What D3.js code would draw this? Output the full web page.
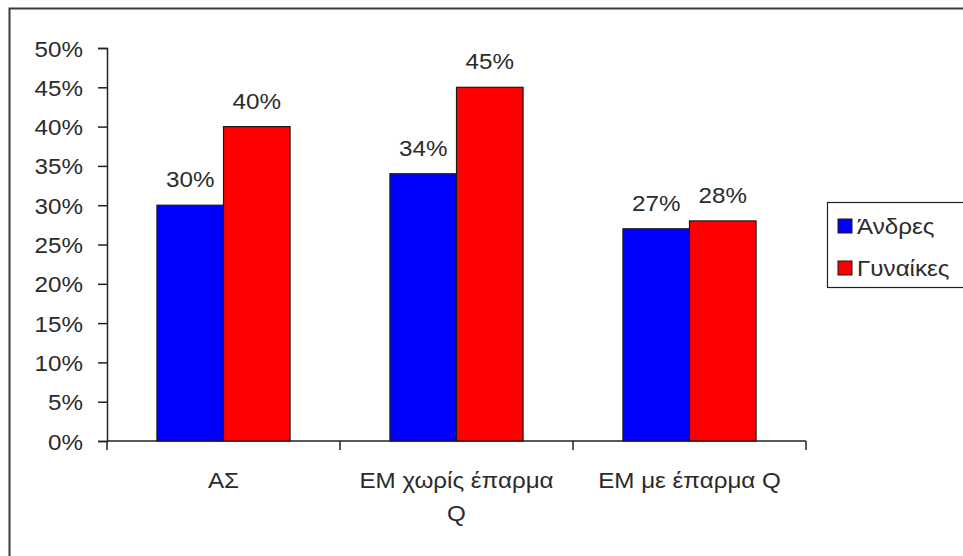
<!DOCTYPE html>
<html>
<head>
<meta charset="utf-8">
<script src="https://cdn.jsdelivr.net/npm/d3@7"></script>
<style>
  html, body { margin: 0; padding: 0; background: #fff; }
  svg { display: block; }
  text { font-family: Arial, "Liberation Sans", sans-serif; fill: #2b2b2b; }
</style>
</head>
<body>
<svg id="chart" width="963" height="556"></svg>
<script>
// Categories, series and values
const categories = ["ΑΣ", "ΕΜ χωρίς έπαρμα Q", "ΕΜ με έπαρμα Q"];
const seriesNames = ["Άνδρες", "Γυναίκες"];
const men = [0.30, 0.34, 0.27];
const women = [0.40, 0.45, 0.28];
const yTicks = [0, 0.05, 0.10, 0.15, 0.20, 0.25, 0.30, 0.35, 0.40, 0.45, 0.50];
const colors = ["#0000ff", "#ff0000"];

const seriesValues = [men, women];
const rows = categories.map((c, i) => ({ cat: c, vals: seriesNames.map((s, j) => ({ s, v: seriesValues[j][i] })) }));

const svg = d3.select("#chart");
const stretch = 1.1;   // wide glyphs
const fontSize = 22;

// Frame around the chart area
svg.append("rect")
  .attr("x", 9.5).attr("y", 8.5)
  .attr("width", 1000).attr("height", 600)
  .attr("fill", "none").attr("stroke", "#3a3a3a").attr("stroke-width", 2);

const x0 = d3.scaleBand().domain(categories).range([107, 806]).padding(0);
const bw = x0.bandwidth() / 3.5;
const off = (x0.bandwidth() - 2 * bw) / 2;
const x1 = d3.scaleBand().domain(seriesNames).range([off, off + 2 * bw]).padding(0);
const y = d3.scaleLinear().domain([0, 0.5]).range([441, 48]);

// Y axis
const yAxis = svg.append("g").attr("transform", "translate(107,0)")
  .call(d3.axisLeft(y).tickValues(yTicks).tickSize(9).tickPadding(0).tickFormat(() => ""));
yAxis.select(".domain").attr("stroke", "#222").attr("stroke-width", 1.5);
yAxis.selectAll(".tick line").attr("stroke", "#222").attr("stroke-width", 1.5);
yAxis.selectAll(".tick").append("text")
  .attr("text-anchor", "end")
  .attr("transform", "translate(-24,8) scale(" + stretch + ",1)")
  .style("font-size", fontSize + "px")
  .text(d => d3.format(".0%")(d));

// X axis with ticks on category boundaries
const xAxisG = svg.append("g").attr("transform", "translate(0,441)");
xAxisG.append("line")
  .attr("x1", x0.range()[0]).attr("x2", x0.range()[1])
  .attr("stroke", "#222").attr("stroke-width", 1.5);
const bounds = categories.map(c => x0(c)).concat([x0.range()[1]]);
xAxisG.selectAll("line.tk").data(bounds).join("line").attr("class", "tk")
  .attr("x1", d => d).attr("x2", d => d).attr("y1", 0).attr("y2", 9)
  .attr("stroke", "#222").attr("stroke-width", 1.5);

// Bars
const groups = svg.append("g").selectAll("g").data(rows).join("g")
  .attr("transform", d => "translate(" + x0(d.cat) + ",0)");
groups.selectAll("rect").data(d => d.vals).join("rect")
  .attr("x", d => x1(d.s))
  .attr("y", d => y(d.v))
  .attr("width", x1.bandwidth())
  .attr("height", d => y(0) - y(d.v))
  .attr("fill", (d, i) => colors[i])
  .attr("stroke", "#1a1a1a").attr("stroke-width", 1.2);

// Value labels above bars
groups.selectAll("text").data(d => d.vals).join("text")
  .attr("text-anchor", "middle")
  .attr("transform", d => "translate(" + (x1(d.s) + x1.bandwidth() / 2) + "," + (y(d.v) - 18) + ") scale(" + stretch + ",1)")
  .style("font-size", fontSize + "px")
  .text(d => d3.format(".0%")(d.v));

// Category labels, wrapped to the band width
const catG = svg.append("g");
categories.forEach(c => {
  const cx = x0(c) + x0.bandwidth() / 2;
  const t = catG.append("text")
    .attr("text-anchor", "middle")
    .attr("transform", "translate(" + cx + ",488) scale(" + stretch + ",1)")
    .style("font-size", fontSize + "px");
  const words = c.split(" ");
  let line = [];
  let tspan = t.append("tspan").attr("x", 0).attr("dy", 0);
  words.forEach(w => {
    line.push(w);
    tspan.text(line.join(" "));
    if (tspan.node().getComputedTextLength() * stretch > x0.bandwidth() - 20 && line.length > 1) {
      line.pop();
      tspan.text(line.join(" "));
      line = [w];
      tspan = t.append("tspan").attr("x", 0).attr("dy", 33).text(w);
    }
  });
});

// Legend
const legend = svg.append("g");
legend.append("rect")
  .attr("x", 827.5).attr("y", 202.5).attr("width", 140).attr("height", 85)
  .attr("fill", "#fff").attr("stroke", "#222").attr("stroke-width", 1.2);
seriesNames.forEach((s, i) => {
  const ly = 226 + i * 42;
  legend.append("rect")
    .attr("x", 838).attr("y", ly - 7).attr("width", 14).attr("height", 14)
    .attr("fill", colors[i]).attr("stroke", "#1a1a1a").attr("stroke-width", 1);
  legend.append("text")
    .attr("transform", "translate(857," + (ly + 8) + ") scale(" + stretch + ",1)")
    .style("font-size", fontSize + "px")
    .text(s);
});
</script>
</body>
</html>
